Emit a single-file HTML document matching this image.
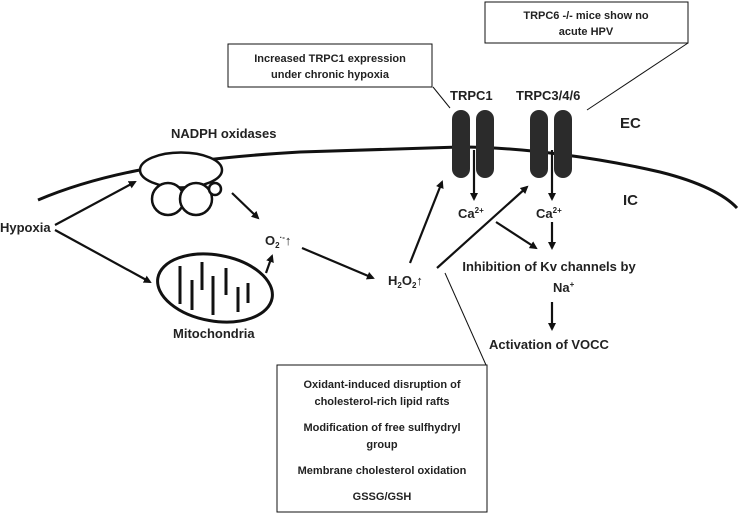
<!DOCTYPE html>
<html><head><style>
body{margin:0;background:#fff;}
svg text{font-family:"Liberation Sans",sans-serif;font-weight:bold;fill:#222;}
</style></head><body>
<svg width="739" height="515" viewBox="0 0 739 515" xmlns="http://www.w3.org/2000/svg">
<defs><marker id="a" markerWidth="8" markerHeight="8" refX="6" refY="4" orient="auto" markerUnits="userSpaceOnUse"><path d="M0,0 L8,4 L0,8 Z" fill="#111"/></marker></defs>
<!-- membrane -->
<path d="M38,200 C90,178 160,160 300,152 L460,147 C520,147 600,158 660,172 C700,182 725,195 737,208" fill="none" stroke="#111" stroke-width="3"/>
<!-- NADPH -->
<ellipse cx="181" cy="170" rx="41" ry="17.5" fill="#fff" stroke="#111" stroke-width="2.5"/>
<circle cx="168" cy="199" r="16" fill="#fff" stroke="#111" stroke-width="2.5"/>
<circle cx="196" cy="199" r="16" fill="#fff" stroke="#111" stroke-width="2.5"/>
<circle cx="215" cy="189" r="6" fill="#fff" stroke="#111" stroke-width="2.5"/>
<!-- mitochondria -->
<ellipse cx="215" cy="288" rx="58" ry="33" transform="rotate(10 215 288)" fill="#fff" stroke="#111" stroke-width="3"/>
<g stroke="#111" stroke-width="3" fill="none">
<path d="M180,266 V304 M192,310 V280 M202,262 V290 M213,315 V276 M226,268 V295 M238,312 V287 M248,283 V303"/>
</g>
<!-- channels -->
<g fill="#2b2b2b">
<rect x="452" y="110" width="18" height="68" rx="9"/><rect x="476" y="110" width="18" height="68" rx="9"/>
<rect x="530" y="110" width="18" height="68" rx="9"/><rect x="554" y="110" width="18" height="68" rx="9"/>
</g>
<!-- arrows -->
<g stroke="#111" stroke-width="2.2" fill="none" marker-end="url(#a)">
<line x1="55" y1="225" x2="135" y2="182"/>
<line x1="55" y1="230" x2="150" y2="282"/>
<line x1="232" y1="193" x2="258" y2="218"/>
<line x1="266" y1="273" x2="272" y2="256"/>
<line x1="302" y1="248" x2="373" y2="278"/>
<line x1="410" y1="263" x2="442" y2="182"/>
<line x1="437" y1="268" x2="527" y2="187"/>
<line x1="474" y1="150" x2="474" y2="199"/>
<line x1="552" y1="150" x2="552" y2="199"/>
<line x1="496" y1="222" x2="536" y2="248"/>
<line x1="552" y1="222" x2="552" y2="248"/>
<line x1="552" y1="302" x2="552" y2="329"/>
</g>
<!-- thin callout lines -->
<g stroke="#111" stroke-width="1" fill="none">
<line x1="433" y1="87" x2="450" y2="108"/>
<line x1="688" y1="43" x2="587" y2="110"/>
<line x1="445" y1="273" x2="486" y2="365"/>
</g>
<!-- boxes -->
<rect x="228" y="44" width="204" height="43" fill="#fff" stroke="#111"/>
<text x="330" y="62" font-size="11" text-anchor="middle">Increased TRPC1 expression</text>
<text x="330" y="78" font-size="11" text-anchor="middle">under chronic hypoxia</text>
<rect x="485" y="2" width="203" height="41" fill="#fff" stroke="#111"/>
<text x="586" y="19" font-size="11" text-anchor="middle">TRPC6 -/- mice show no</text>
<text x="586" y="35" font-size="11" text-anchor="middle">acute HPV</text>
<rect x="277" y="365" width="210" height="147" fill="#fff" stroke="#111"/>
<g font-size="11" text-anchor="middle">
<text x="382" y="388">Oxidant-induced disruption of</text>
<text x="382" y="405">cholesterol-rich lipid rafts</text>
<text x="382" y="431">Modification of free sulfhydryl</text>
<text x="382" y="448">group</text>
<text x="382" y="474">Membrane cholesterol oxidation</text>
<text x="382" y="500">GSSG/GSH</text>
</g>
<!-- labels -->
<g font-size="13">
<text x="171" y="138">NADPH oxidases</text>
<text x="0" y="232">Hypoxia</text>
<text x="173" y="338">Mitochondria</text>
<text x="450" y="100">TRPC1</text>
<text x="516" y="100">TRPC3/4/6</text>
<text x="620" y="128" font-size="15">EC</text>
<text x="623" y="205" font-size="15">IC</text>
<text x="458" y="218" font-weight="normal">Ca<tspan font-size="8" dy="-5">2+</tspan></text>
<text x="536" y="218" font-weight="normal">Ca<tspan font-size="8" dy="-5">2+</tspan></text>
<text x="549" y="271" text-anchor="middle">Inhibition of Kv channels by</text>
<text x="553" y="292" font-weight="normal">Na<tspan font-size="8" dy="-5">+</tspan></text>
<text x="549" y="349" text-anchor="middle">Activation of VOCC</text>
<text x="265" y="245" font-weight="normal">O<tspan font-size="8" dy="3">2</tspan><tspan font-size="8" dy="-8">·-</tspan><tspan dy="5" font-weight="normal">↑</tspan></text>
<text x="388" y="285" font-weight="normal">H<tspan font-size="8" dy="3">2</tspan><tspan dy="-3">O</tspan><tspan font-size="8" dy="3">2</tspan><tspan dy="-3">↑</tspan></text>
</g>
</svg>
</body></html>
